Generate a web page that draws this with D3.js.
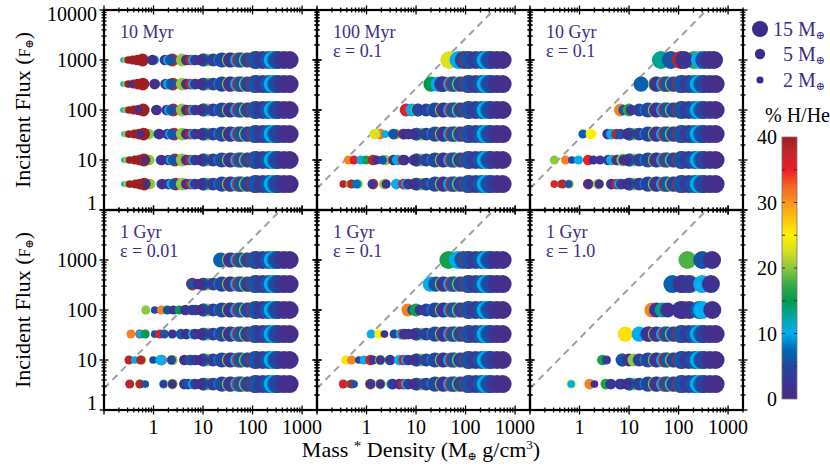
<!DOCTYPE html>
<html><head><meta charset="utf-8">
<script src="https://cdn.jsdelivr.net/npm/d3@7"></script>
<style>body{margin:0;background:#fff}svg{display:block}text{font-family:"Liberation Serif","DejaVu Serif",serif}</style>
</head><body><svg id="c" width="830" height="471"></svg>
<script>
// ---------- data ----------
const fluxRows = [1000, 330, 100, 33, 10, 3.3];
const panelLabels = [["10 Myr"],["100 Myr","ε = 0.1"],["10 Gyr","ε = 0.1"],["1 Gyr","ε = 0.01"],["1 Gyr","ε = 0.1"],["1 Gyr","ε = 1.0"]];
const yTickTop = [10000, 1000, 100, 10, 1];
const yTickBottom = [1000, 100, 10, 1];
const xTickLabels = [1, 10, 100, 1000];
const legendMasses = [15, 5, 2];
const cbarTicks = [0, 10, 20, 30, 40];
const lineRatio = 27; // dashed line: flux = 27 * (mass*density)
const colorStops = [0,2.5,5,7.5,10,12.5,15,17.5,20,22.5,25,27.5,30,32.5,35,37.5,40];
const colorHex = ["#4a2b83","#3d3494","#23479e","#0067b3","#00aeef","#00a8a0","#009a4e","#3aaa48","#8dc63f","#d4de25","#fff200","#fcc20e","#f7941d","#f26522","#ed1c24","#c1272d","#9e1f21"];

// shared dense tail of each row: [mass*density, mass, %H/He]
const tail = [
 [3.8,8.5,20],[4.6,5.5,1],[5.6,5.5,38],[6.4,5.5,10],[7.0,5.5,3],
 [10.5,8.5,38],[12.5,8.5,20],[10,8.5,6],[9,5.5,1.5],[16,8.5,4],
 [22,8.5,10],[24,13,5],[34,13,20],[36,13,2],[50,13,10],[55,13,38],[60,13,6],
 [75,13,20],[80,13,5],[112,20,38],[118,20,6],[160,20,3],[210,20,6],[255,20,10],[300,20,7],[330,20,5],[430,20,2],[560,20,1]
];
// per panel, per flux row: [head points, tail starts at x]
const p10Myr = [
 [[[0.24,1,10],[0.27,1.5,20],[0.31,2.4,40],[0.38,3.6,40],[0.47,5.5,40],[0.6,8.5,40],[1.05,3.6,10],[0.95,5.5,1.5],[1.7,5.5,2],[2.0,5.5,10],[2.4,8.5,38],[2.2,5.5,6]], 3.5],
 [[[0.24,1,10],[0.27,1.5,20],[0.31,2.4,40],[0.39,3.6,40],[0.48,5.5,40],[0.61,8.5,40],[0.36,1.5,1.5],[1.1,3.6,10],[1.05,5.5,1.5],[1.75,5.5,2],[2.0,5.5,10],[2.45,8.5,38],[2.25,5.5,6]], 3.5],
 [[[0.24,1,10],[0.27,1.5,20],[0.32,2.4,40],[0.4,3.6,40],[0.5,5.5,40],[0.62,8.5,40],[0.49,2.4,1.5],[1.1,3.6,10],[1.15,5.5,1.5],[1.85,5.5,2],[2.1,5.5,10],[2.5,8.5,38],[2.3,5.5,6]], 3.6],
 [[[0.25,1,10],[0.27,1.5,20],[0.8,5.5,20],[0.32,2.4,40],[0.41,3.6,40],[0.51,5.5,40],[0.63,8.5,40],[0.55,2.4,1.5],[1.2,3.6,10],[1.3,5.5,1.5],[1.9,5.5,2],[2.2,5.5,10],[2.6,8.5,38],[2.4,5.5,6]], 3.7],
 [[[0.25,1,10],[0.28,1.5,20],[0.82,5.5,20],[0.33,2.4,40],[0.42,3.6,40],[0.52,5.5,40],[0.64,8.5,40],[0.68,2.4,1.5],[1.35,3.6,10],[1.45,5.5,1.5],[2.0,5.5,2],[2.3,5.5,10],[2.7,8.5,38],[2.5,5.5,6]], 3.8],
 [[[0.25,1,10],[0.28,1.5,20],[0.85,5.5,20],[0.33,2.4,40],[0.43,3.6,40],[0.53,5.5,40],[0.65,8.5,40],[0.72,2.4,1.5],[1.4,3.6,10],[1.5,5.5,1.5],[2.0,5.5,2],[2.35,5.5,10],[2.8,8.5,38],[2.6,5.5,6]], 3.8]
];
const p100Myr = [
 [[[47,20,23],[72,20,10],[92,20,5]], 100],
 [[[20,13,15],[28,13,10],[34,13,38],[33,13,5]], 36],
 [[[6.3,8.5,36],[8.2,8.5,10],[10.5,8.5,20],[11,8.5,5]], 14],
 [[[1.9,5.5,31],[1.47,5.5,23],[2.4,2.4,10],[3.9,5.5,20],[3.5,5.5,6],[5.5,5.5,38],[5.8,5.5,1.5],[7,5.5,2]], 8],
 [[[0.43,3.6,31],[0.56,3.6,36],[0.77,3.6,10],[0.97,3.6,16],[1.35,5.5,38],[1.6,3.6,1.5],[2.4,5.5,20],[2.1,3.6,6],[3.5,5.5,1.5],[4.2,5.5,10],[5.4,5.5,38],[5.8,5.5,2]], 7.5],
 [[[0.34,2.4,38],[0.45,2.4,20],[0.5,3.6,38],[0.68,3.6,20],[0.63,3.6,8],[1.35,5.5,38],[1.3,3.6,3],[2.3,5.5,20],[2.5,3.6,1.5],[4,5.5,10]], 5]
];
const p10Gyr = [
 [[[44,20,13],[70,20,6],[110,20,38],[205,20,17],[130,20,2],[270,20,10],[330,20,5],[420,20,1.5],[520,20,1]], 1e9],
 [[[17.5,13,7]], 25],
 [[[6.7,8.5,31],[7.8,5.5,6],[10,8.5,17],[11,5.5,2]], 14],
 [[[1.17,3.6,7],[1.7,5.5,25],[3.7,5.5,1.5],[4.4,5.5,10],[5.6,5.5,38],[6.7,5.5,6]], 7.5],
 [[[0.31,3.6,20],[0.52,3.6,31],[0.7,2.4,5],[0.95,3.6,10],[1.5,5.5,35],[1.9,3.6,2],[2.6,3.6,3],[3.8,5.5,1.5],[4.4,5.5,10],[5.6,5.5,38],[5.8,5.5,2],[7.5,8.5,20],[7.8,5.5,1.5]], 9],
 [[[0.31,2.4,35],[0.42,2.4,13],[0.45,3.6,38],[0.62,3.6,20],[0.6,2.4,6],[1.5,5.5,38],[1.5,3.6,2],[2.4,5.5,20],[2.5,3.6,1.5],[4.4,5.5,2]], 5]
];
const p1GyrE001 = [
 [[[22.6,13,7]], 25],
 [[[6.1,8.5,38],[6,5.5,6],[8,5.5,1.5]], 9],
 [[[0.7,3.6,20],[1.06,2.4,5],[1.45,3.6,31],[1.9,3.6,6],[2.5,3.6,2],[3.3,3.6,15],[4.4,5.5,2],[6,5.5,4]], 7],
 [[[0.35,3.6,31],[0.53,3.6,38],[0.53,2.4,10],[0.68,3.6,15],[1.06,2.4,5],[1.35,3.6,36],[1.65,3.6,6],[2.4,3.6,2],[3.6,5.5,6],[4.6,5.5,1.5]], 6],
 [[[0.32,3.6,38],[0.42,2.4,10],[0.58,3.6,20],[0.55,3.6,38],[0.98,2.4,5],[1.45,5.5,38],[1.4,5.5,10],[2.4,5.5,20],[2.3,3.6,5],[4.2,5.5,1.5],[5.5,5.5,38],[5.6,5.5,6]], 7],
 [[[0.33,3.6,38],[0.53,3.6,38],[0.68,2.4,6],[1.6,3.6,10],[1.6,2.4,3],[2.4,5.5,20],[2.4,3.6,1.5],[4.2,5.5,2],[5,5.5,6]], 6]
];
const p1GyrE01 = [
 [[[45,20,16],[70,20,10],[90,20,6]], 100],
 [[[19.4,13,10],[25,13,6]], 30],
 [[[6.8,8.5,31],[8.5,5.5,6],[10,8.5,16],[12,5.5,2]], 14],
 [[[1.24,3.6,10],[1.77,3.6,25],[2.3,2.4,2],[3.6,3.6,5],[5,5.5,10],[5.6,5.5,38],[6,5.5,2]], 7],
 [[[0.38,3.6,24],[0.5,3.6,31],[0.7,2.4,5],[0.9,3.6,10],[1.2,5.5,36],[1.35,3.6,3],[1.9,5.5,20],[1.9,3.6,2],[3,5.5,3],[4.6,5.5,10]], 5],
 [[[0.34,3.6,36],[0.46,2.4,16],[0.5,3.6,38],[0.56,2.4,6],[1.2,5.5,38],[1.2,3.6,3],[1.9,5.5,20],[1.9,3.6,1.5],[3.2,5.5,10],[3.4,5.5,2]], 4.5]
];
const p1GyrE1 = [
 [[[151,20,18],[300,20,6],[475,20,1.5]], 1e9],
 [[[75,20,7],[120,20,38],[115,20,2],[170,20,18],[160,20,3],[300,20,10],[450,20,2]], 1e9],
 [[[29,13,31],[36,13,3],[47,13,13],[60,13,2],[125,20,38],[110,20,2],[165,20,2],[260,20,7],[300,20,10],[480,20,1.5]], 1e9],
 [[[8.4,13,26],[16,13,10],[25,13,38],[24,13,2]], 30],
 [[[2.9,5.5,16],[3.5,3.6,3],[7.4,8.5,38],[7.2,8.5,6],[10,8.5,1.5]], 12],
 [[[0.68,3.6,24],[0.68,2.4,10],[1.6,5.5,31],[2.0,2.4,2],[3.4,5.5,16],[4.3,5.5,2],[6.5,5.5,3]], 7]
];
const panels = [p10Myr, p100Myr, p10Gyr, p1GyrE001, p1GyrE01, p1GyrE1];

// ---------- layout ----------
const svg = d3.select("#c");
const pw = 213, ph = 200;
const px0 = [104, 317, 530], py0 = [10, 210];
const textPurple = "#3d2b8c";
const x = d3.scaleLog().domain([0.1, 2000]).range([0, pw]);
const y = d3.scaleLog().domain([1, 10000]).range([ph, 0]);
const r = d3.scalePow().exponent(0.4).domain([0, 20]).range([0, 9]);
const color = d3.scaleLinear().domain(colorStops).range(colorHex).clamp(true);

panels.forEach((rows, i) => {
  const g = svg.append("g").attr("transform", `translate(${px0[i % 3]},${py0[Math.floor(i / 3)]})`);
  const cid = "clip" + i;
  g.append("clipPath").attr("id", cid).append("rect").attr("width", pw).attr("height", ph);
  const inner = g.append("g").attr("clip-path", `url(#${cid})`);
  if (i > 0) {
    const lx = [0.1, 10000 / lineRatio];
    inner.append("path")
      .attr("d", d3.line().x(d => x(d)).y(d => y(d * lineRatio))(lx))
      .attr("stroke", "#a0a0a0").attr("stroke-width", 2).attr("stroke-dasharray", "7,5").attr("fill", "none");
  }
  rows.forEach((row, k) => {
    const flux = fluxRows[k];
    const pts = row[0].concat(tail.filter(t => t[0] >= row[1]));
    inner.selectAll(null).data(pts).enter().append("circle")
      .attr("cx", d => x(d[0])).attr("cy", y(flux))
      .attr("r", d => r(d[1])).attr("fill", d => color(d[2]));
  });
  // ticks
  const tg = g.append("g").attr("stroke", "#000");
  const isMajor = v => Math.abs(Math.log10(v) - Math.round(Math.log10(v))) < 1e-6;
  x.ticks().forEach(v => {
    const L = isMajor(v) ? 4.5 : 2.5;
    const xx = x(v);
    tg.append("line").attr("x1", xx).attr("x2", xx).attr("y1", ph - L).attr("y2", ph + L).attr("stroke-width", 1.3);
    tg.append("line").attr("x1", xx).attr("x2", xx).attr("y1", -L).attr("y2", L).attr("stroke-width", 1.3);
  });
  y.ticks().forEach(v => {
    const L = isMajor(v) ? 4.5 : 2.5;
    const yy = y(v);
    tg.append("line").attr("x1", -L).attr("x2", L).attr("y1", yy).attr("y2", yy).attr("stroke-width", 1.3);
    tg.append("line").attr("x1", pw - L).attr("x2", pw + L).attr("y1", yy).attr("y2", yy).attr("stroke-width", 1.3);
  });
  g.append("rect").attr("width", pw).attr("height", ph).attr("fill", "none").attr("stroke", "#000").attr("stroke-width", 2.2);
  // panel label
  const lab = g.append("text").attr("x", 16).attr("y", 27.5).attr("fill", textPurple).attr("font-size", 18);
  panelLabels[i].forEach((t, j) => lab.append("tspan").attr("x", 16).attr("dy", j ? 19 : 0).text(t));
  // tick labels
  if (i % 3 === 0) {
    (i === 0 ? yTickTop : yTickBottom).forEach(v => {
      const nudge = v === 10000 ? 4 : (v === 1 ? -7 : 0);
      g.append("text").attr("x", -7).attr("y", y(v) + nudge).attr("dy", "0.35em")
        .attr("text-anchor", "end").attr("font-size", 20).attr("fill", "#000").text(v);
    });
  }
  if (i >= 3) {
    xTickLabels.forEach(v => {
      g.append("text").attr("x", x(v)).attr("y", ph + 24).attr("text-anchor", "middle")
        .attr("font-size", 20).attr("fill", "#000").text(v);
    });
  }
});

// axis titles
[110, 310].forEach(cy => {
  const t = svg.append("text").attr("transform", `translate(30,${cy}) rotate(-90)`)
    .attr("text-anchor", "middle").attr("font-size", 22).attr("fill", "#000");
  t.append("tspan").text("Incident Flux (");
  t.append("tspan").attr("font-size", 16).text("F");
  t.append("tspan").attr("font-size", 11).attr("dy", 3).text("⊕");
  t.append("tspan").attr("dy", -3).text(")");
});
{
  const t = svg.append("text").attr("x", 421).attr("y", 457).attr("text-anchor", "middle")
    .attr("font-size", 22).attr("fill", "#000");
  t.append("tspan").text("Mass ");
  t.append("tspan").attr("font-size", 15).attr("dy", -6).text("*");
  t.append("tspan").attr("dy", 6).text(" Density (M");
  t.append("tspan").attr("font-size", 11).attr("dy", 3).text("⊕");
  t.append("tspan").attr("dy", -3).text(" g/cm");
  t.append("tspan").attr("font-size", 13).attr("dy", -8).text("3");
  t.append("tspan").attr("dy", 8).text(")");
}

// size legend
const legY = [29, 54, 80];
legendMasses.forEach((m, j) => {
  svg.append("circle").attr("cx", 760).attr("cy", legY[j]).attr("r", r(m)).attr("fill", textPurple);
  svg.append("text").attr("x", 793).attr("y", legY[j] + 6.5).attr("text-anchor", "end")
    .attr("font-size", 20).attr("fill", textPurple).text(m);
  const t = svg.append("text").attr("x", 798).attr("y", legY[j] + 6.5).attr("font-size", 20).attr("fill", textPurple);
  t.append("tspan").text("M");
  t.append("tspan").attr("font-size", 11).attr("dy", 3).text("⊕");
});

// colour bar
const cbX = 782, cbW = 15;
const cb = d3.scaleLinear().domain([0, 40]).range([399, 137]);
const grad = svg.append("defs").append("linearGradient").attr("id", "cbg")
  .attr("x1", 0).attr("y1", 1).attr("x2", 0).attr("y2", 0);
colorStops.forEach((s, j) => grad.append("stop").attr("offset", s / 40).attr("stop-color", colorHex[j]));
svg.append("rect").attr("x", cbX).attr("y", cb(40)).attr("width", cbW).attr("height", cb(0) - cb(40))
  .attr("fill", "url(#cbg)").attr("stroke", "#777").attr("stroke-width", 0.8);
d3.range(5, 40, 5).forEach(v => {
  svg.append("line").attr("x1", cbX + cbW - 3).attr("x2", cbX + cbW).attr("y1", cb(v)).attr("y2", cb(v))
    .attr("stroke", "#333").attr("stroke-width", 1);
  svg.append("line").attr("x1", cbX).attr("x2", cbX + 3).attr("y1", cb(v)).attr("y2", cb(v))
    .attr("stroke", "#333").attr("stroke-width", 1);
});
cbarTicks.forEach(v => {
  svg.append("text").attr("x", 777).attr("y", cb(v)).attr("dy", "0.35em").attr("text-anchor", "end")
    .attr("font-size", 20).attr("fill", "#000").text(v);
});
svg.append("text").attr("x", 765).attr("y", 122).attr("font-size", 20).attr("fill", "#000").text("% H/He");
</script></body></html>
